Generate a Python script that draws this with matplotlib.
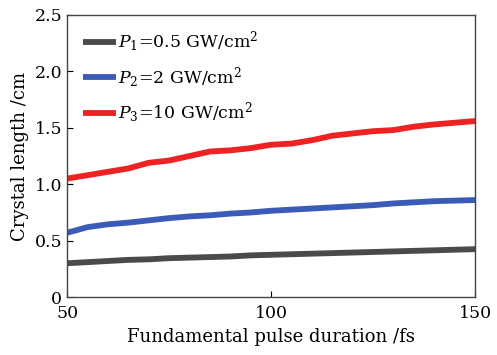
import matplotlib
matplotlib.use("Agg")
import matplotlib.pyplot as plt

plt.rcParams['font.family'] = ['DejaVu Serif']
plt.rcParams['mathtext.fontset'] = 'dejavuserif'

duration = [50, 55, 60, 65, 70, 75, 80, 85, 90, 95, 100, 105, 110, 115, 120, 125, 130, 135, 140, 145, 150]
p1 = [0.30, 0.31, 0.32, 0.33, 0.335, 0.345, 0.35, 0.355, 0.36, 0.37, 0.375, 0.38, 0.385, 0.39, 0.395, 0.40, 0.405, 0.41, 0.415, 0.42, 0.425]
p2 = [0.57, 0.62, 0.645, 0.66, 0.68, 0.70, 0.715, 0.725, 0.74, 0.75, 0.765, 0.775, 0.785, 0.795, 0.805, 0.815, 0.83, 0.84, 0.85, 0.855, 0.86]
p3 = [1.05, 1.08, 1.11, 1.14, 1.19, 1.21, 1.25, 1.29, 1.30, 1.32, 1.35, 1.36, 1.39, 1.43, 1.45, 1.47, 1.48, 1.51, 1.53, 1.545, 1.56]
labels = [r'$P_1$=0.5 GW/cm$^2$', r'$P_2$=2 GW/cm$^2$', r'$P_3$=10 GW/cm$^2$']
colors = ['#4a4a4a', '#3a5bb8', '#ee2222']

fig = plt.figure(figsize=(4.97, 3.55), dpi=100)
ax = fig.add_axes([0.135, 0.163, 0.821, 0.795])
for y, lab, c in zip([p1, p2, p3], labels, colors):
    ax.plot(duration, y, color=c, lw=4.2, label=lab, solid_capstyle='butt')

ax.set_xlim(50, 150)
ax.set_ylim(0, 2.5)
ax.set_xticks([50, 100, 150])
ax.set_yticks([0, 0.5, 1.0, 1.5, 2.0, 2.5])
ax.set_yticklabels(['0', '0.5', '1.0', '1.5', '2.0', '2.5'])
ax.tick_params(direction='in', length=4, labelsize=12.5, top=False, right=False)
ax.tick_params(axis='x', pad=6)
ax.set_xlabel('Fundamental pulse duration /fs', fontsize=13, labelpad=4)
ax.set_ylabel('Crystal length /cm', fontsize=13, labelpad=4)
for s in ax.spines.values():
    s.set_color('#444444')
    s.set_linewidth(1.0)

ax.legend(loc='upper left', frameon=False, fontsize=12.5, handlelength=1.9,
          handletextpad=0.1, labelspacing=0.62, borderaxespad=0.3,
          bbox_to_anchor=(0.01, 0.99))

fig.savefig('out.png', dpi=100)
